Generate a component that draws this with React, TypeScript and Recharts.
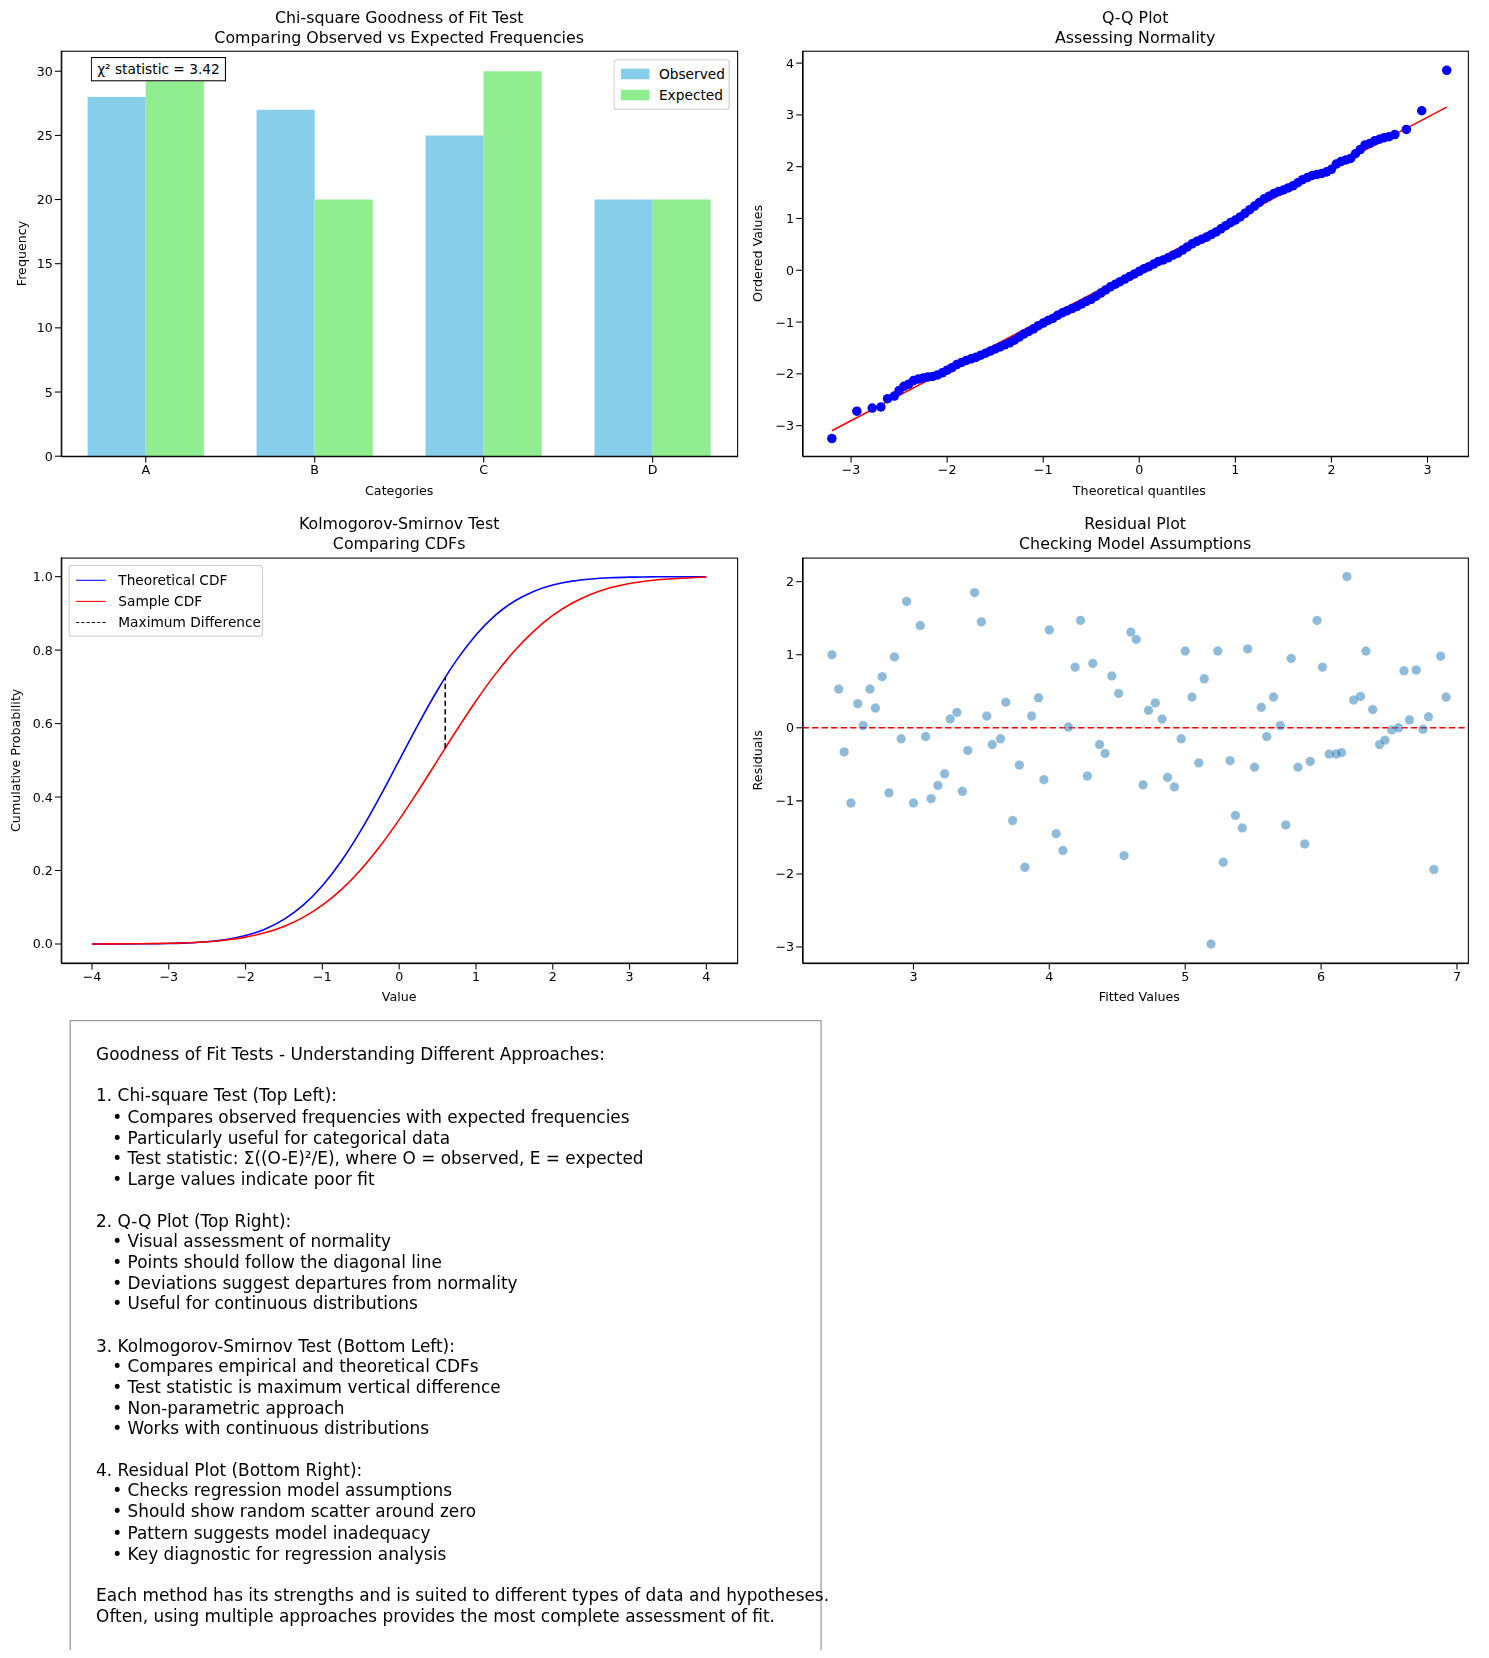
import React from "react";
import {
  BarChart, Bar, XAxis, YAxis, ScatterChart, Scatter, LineChart, Line,
  ReferenceLine, ComposedChart,
} from "recharts";

const categories = ["A", "B", "C", "D"];
const observed = [28, 27, 25, 20];
const expected = [30, 20, 30, 20];

const qqPairs: [number, number][] = [
  [-3.2,-3.25],[-2.94,-2.72],[-2.78,-2.66],[-2.69,-2.64],[-2.62,-2.48],[-2.55,-2.43],[-2.5,-2.32],[-2.45,-2.24],[-2.4,-2.2],[-2.35,-2.13],[-2.3,-2.1],[-2.25,-2.08],[-2.2,-2.06],[-2.15,-2.05],[-2.1,-2.02],[-2.05,-1.98],[-2.0,-1.93],[-1.95,-1.88],[-1.9,-1.82],[-1.85,-1.78],[-1.8,-1.74],[-1.75,-1.71],[-1.7,-1.68],[-1.65,-1.64],[-1.6,-1.6],[-1.55,-1.56],[-1.5,-1.52],[-1.45,-1.48],[-1.4,-1.44],[-1.35,-1.4],[-1.3,-1.35],[-1.25,-1.29],[-1.2,-1.23],[-1.15,-1.18],[-1.1,-1.13],[-1.05,-1.07],[-1.0,-1.02],[-0.95,-0.97],[-0.9,-0.93],[-0.85,-0.87],[-0.8,-0.82],[-0.75,-0.78],[-0.7,-0.74],[-0.65,-0.7],[-0.6,-0.65],[-0.55,-0.6],[-0.5,-0.56],[-0.45,-0.5],[-0.4,-0.44],[-0.35,-0.38],[-0.3,-0.32],[-0.25,-0.27],[-0.2,-0.22],[-0.15,-0.17],[-0.1,-0.12],[-0.05,-0.07],[0,-0.02],[0.05,0.03],[0.1,0.07],[0.15,0.12],[0.2,0.17],[0.25,0.2],[0.3,0.24],[0.35,0.29],[0.4,0.33],[0.45,0.39],[0.5,0.45],[0.55,0.51],[0.6,0.56],[0.65,0.6],[0.7,0.64],[0.75,0.69],[0.8,0.74],[0.85,0.8],[0.9,0.86],[0.95,0.92],[1.0,0.97],[1.05,1.03],[1.1,1.1],[1.15,1.17],[1.2,1.24],[1.25,1.31],[1.3,1.38],[1.35,1.43],[1.4,1.48],[1.45,1.52],[1.5,1.55],[1.55,1.59],[1.6,1.63],[1.65,1.69],[1.7,1.75],[1.75,1.79],[1.8,1.83],[1.85,1.85],[1.9,1.87],[1.95,1.9],[2.0,1.95],[2.05,2.05],[2.1,2.1],[2.15,2.13],[2.2,2.16],[2.25,2.25],[2.3,2.33],[2.35,2.42],[2.4,2.45],[2.45,2.5],[2.5,2.53],[2.55,2.56],[2.6,2.58],[2.66,2.62],[2.78,2.72],[2.94,3.08],[3.2,3.86],
];
const qqLine = [{ x: -3.2, y: -3.1 }, { x: 3.2, y: 3.15 }];

const cdfX = [-4,-3.75,-3.5,-3.25,-3,-2.75,-2.5,-2.25,-2,-1.75,-1.5,-1.25,-1,-0.75,-0.5,-0.25,0,0.25,0.5,0.75,1,1.25,1.5,1.75,2,2.25,2.5,2.75,3,3.25,3.5,3.75,4];
const theoCdf = [0,0.0001,0.0002,0.0006,0.0013,0.003,0.0062,0.0122,0.0228,0.0401,0.0668,0.1056,0.1587,0.2266,0.3085,0.4013,0.5,0.5987,0.6915,0.7734,0.8413,0.8944,0.9332,0.9599,0.9772,0.9878,0.9938,0.997,0.9987,0.9994,0.9998,0.9999,1];
const sampleCdf = [0.0001,0.0002,0.0004,0.0009,0.0018,0.0034,0.0062,0.011,0.0186,0.0304,0.0478,0.0724,0.1056,0.1488,0.2023,0.266,0.3385,0.4175,0.5,0.5825,0.6615,0.734,0.7977,0.8512,0.8944,0.9276,0.9522,0.9696,0.9814,0.989,0.9938,0.9966,0.9992];
const maxDiffX = 0.6;
const maxDiffY = [0.533, 0.726];

const fitted = [2.40,2.45,2.49,2.54,2.59,2.63,2.68,2.72,2.77,2.82,2.86,2.91,2.95,3.00,3.05,3.09,3.13,3.18,3.23,3.27,3.32,3.36,3.40,3.45,3.50,3.54,3.58,3.64,3.68,3.73,3.78,3.82,3.87,3.92,3.96,4.00,4.05,4.10,4.14,4.19,4.23,4.28,4.32,4.37,4.41,4.46,4.51,4.55,4.60,4.64,4.69,4.73,4.78,4.83,4.87,4.92,4.97,5.00,5.05,5.10,5.14,5.19,5.24,5.28,5.33,5.37,5.42,5.46,5.51,5.56,5.60,5.65,5.70,5.74,5.78,5.83,5.88,5.92,5.97,6.01,6.06,6.11,6.15,6.19,6.24,6.29,6.33,6.38,6.43,6.47,6.52,6.57,6.61,6.65,6.70,6.75,6.79,6.83,6.88,6.92];
const residuals = [1.0,0.53,-0.33,-1.03,0.33,0.03,0.53,0.27,0.70,-0.89,0.97,-0.15,1.73,-1.03,1.40,-0.12,-0.97,-0.79,-0.63,0.12,0.21,-0.87,-0.31,1.85,1.45,0.16,-0.23,-0.15,0.35,-1.27,-0.51,-1.91,0.16,0.41,-0.71,1.34,-1.45,-1.68,0.01,0.83,1.47,-0.66,0.88,-0.23,-0.35,0.71,0.47,-1.75,1.31,1.21,-0.78,0.24,0.34,0.12,-0.68,-0.81,-0.15,1.05,0.42,-0.48,0.67,-2.96,1.05,-1.84,-0.45,-1.20,-1.37,1.08,-0.54,0.28,-0.12,0.42,0.03,-1.33,0.95,-0.54,-1.59,-0.46,1.47,0.83,-0.36,-0.36,-0.34,2.07,0.38,0.43,1.05,0.25,-0.23,-0.17,-0.03,0.0,0.78,0.11,0.79,-0.02,0.15,-1.94,0.98,0.42];

const textLines = [
  "Goodness of Fit Tests - Understanding Different Approaches:",
  "",
  "1. Chi-square Test (Top Left):",
  "   • Compares observed frequencies with expected frequencies",
  "   • Particularly useful for categorical data",
  "   • Test statistic: Σ((O-E)²/E), where O = observed, E = expected",
  "   • Large values indicate poor fit",
  "",
  "2. Q-Q Plot (Top Right):",
  "   • Visual assessment of normality",
  "   • Points should follow the diagonal line",
  "   • Deviations suggest departures from normality",
  "   • Useful for continuous distributions",
  "",
  "3. Kolmogorov-Smirnov Test (Bottom Left):",
  "   • Compares empirical and theoretical CDFs",
  "   • Test statistic is maximum vertical difference",
  "   • Non-parametric approach",
  "   • Works with continuous distributions",
  "",
  "4. Residual Plot (Bottom Right):",
  "   • Checks regression model assumptions",
  "   • Should show random scatter around zero",
  "   • Pattern suggests model inadequacy",
  "   • Key diagnostic for regression analysis",
  "",
  "Each method has its strengths and is suited to different types of data and hypotheses.",
  "Often, using multiple approaches provides the most complete assessment of fit.",
];

const FONT = "DejaVu Sans, sans-serif";
const tick = { fontSize: 12, fill: "#000", fontFamily: FONT };
const axLine = { stroke: "#000" };
const minus = (v: number) => String(v).replace("-", "\u2212");
const minus1 = (v: number) => v.toFixed(1).replace("-", "\u2212");

const barData = categories.map((c, i) => ({ cat: c, observed: observed[i], expected: expected[i] }));
const qqData = qqPairs.map(([x, y]) => ({ x, y }));
const theoData = cdfX.map((x, i) => ({ x, y: theoCdf[i] }));
const sampleData = cdfX.map((x, i) => ({ x, y: sampleCdf[i] }));
const diffData = maxDiffY.map((y) => ({ x: maxDiffX, y }));
const residData = fitted.map((x, i) => ({ x, y: residuals[i] }));

function Title({ x, y, w, lines }: { x: number; y: number; w: number; lines: string[] }) {
  return (
    <div style={{ position: "absolute", left: x, top: y, width: w, textAlign: "center", fontFamily: FONT, fontSize: 15, lineHeight: "19px" }}>
      {lines.map((l) => <div key={l}>{l}</div>)}
    </div>
  );
}

function XLab({ cx, y, t }: { cx: number; y: number; t: string }) {
  return <div style={{ position: "absolute", left: cx - 150, top: y, width: 300, textAlign: "center", fontSize: 12 }}>{t}</div>;
}
function YLab({ x, cy, t }: { x: number; cy: number; t: string }) {
  return (
    <div style={{ position: "absolute", left: x - 150, top: cy - 8, width: 300, height: 16, textAlign: "center", fontSize: 12, lineHeight: "16px", transform: "rotate(-90deg)" }}>{t}</div>
  );
}

const frame = (l: number, t: number, w: number, h: number) => (
  <div style={{ position: "absolute", left: l, top: t, width: w, height: h, border: "1px solid #000", boxSizing: "border-box", pointerEvents: "none" }} />
);

export default function App() {
  return (
    <div style={{ width: 1489, height: 1658, margin: -8, background: "#fff", overflow: "hidden" }}>
    <div style={{ position: "relative", width: 1410, height: 1570, fontFamily: FONT, transform: "scale(1.056)", transformOrigin: "0 0" }}>
      <Title x={58} y={8} w={640} lines={["Chi-square Goodness of Fit Test", "Comparing Observed vs Expected Frequencies"]} />
      <div style={{ position: "absolute", left: 0, top: 0 }}>
        <BarChart width={710} height={480} data={barData} margin={{ top: 48, right: 12, bottom: 18, left: 18 }} barCategoryGap="15.6%" barGap={0}>
          <XAxis dataKey="cat" tick={tick} axisLine={axLine} tickLine={axLine} height={30} />
          <YAxis domain={[0, 31.6]} ticks={[0, 5, 10, 15, 20, 25, 30]} tick={tick} axisLine={axLine} tickLine={axLine} width={40} allowDataOverflow />
          <Bar dataKey="observed" fill="#87CEEB" isAnimationActive={false} />
          <Bar dataKey="expected" fill="#90EE90" isAnimationActive={false} />
        </BarChart>
      </div>
      {frame(58, 48, 641, 385)}
      <XLab cx={378} y={458} t="Categories" />
      <YLab x={21} cy={240} t="Frequency" />
      <div style={{ position: "absolute", left: 86, top: 54, padding: "2px 5px", border: "1px solid #000", background: "#fff", fontSize: 13, lineHeight: "17px" }}>χ² statistic = 3.42</div>
      <div style={{ position: "absolute", left: 581, top: 56, width: 110, border: "1px solid #ccc", borderRadius: 3, background: "#fff", fontSize: 13, padding: "3px 0", boxSizing: "border-box" }}>
        {[["#87CEEB", "Observed"], ["#90EE90", "Expected"]].map(([c, n]) => (
          <div key={n} style={{ display: "flex", alignItems: "center", height: 20, paddingLeft: 6 }}>
            <span style={{ width: 27, height: 10, background: c, marginRight: 9 }} />{n}
          </div>
        ))}
      </div>

      <Title x={760} y={8} w={630} lines={["Q-Q Plot", "Assessing Normality"]} />
      <div style={{ position: "absolute", left: 702, top: 0 }}>
        <ComposedChart width={700} height={480} margin={{ top: 48, right: 12, bottom: 18, left: 18 }}>
          <XAxis type="number" dataKey="x" domain={[-3.505, 3.42]} ticks={[-3, -2, -1, 0, 1, 2, 3]} tickFormatter={minus} tick={tick} axisLine={axLine} tickLine={axLine} height={30} allowDataOverflow />
          <YAxis type="number" dataKey="y" domain={[-3.59, 4.24]} ticks={[-3, -2, -1, 0, 1, 2, 3, 4]} tickFormatter={minus} tick={tick} axisLine={axLine} tickLine={axLine} width={40} allowDataOverflow />
          <Scatter data={qqData} fill="#0000ff" isAnimationActive={false} shape={(p: any) => <circle cx={p.cx} cy={p.cy} r={4.5} fill="#0000ff" />} />
          <Line data={qqLine} dataKey="y" stroke="#ff0000" strokeWidth={1.5} dot={false} isAnimationActive={false} />
        </ComposedChart>
      </div>
      {frame(760, 48, 631, 385)}
      <XLab cx={1079} y={458} t="Theoretical quantiles" />
      <YLab x={718} cy={240} t="Ordered Values" />

      <Title x={58} y={487} w={640} lines={["Kolmogorov-Smirnov Test", "Comparing CDFs"]} />
      <div style={{ position: "absolute", left: 0, top: 480 }}>
        <LineChart width={710} height={480} margin={{ top: 48, right: 12, bottom: 18, left: 18 }}>
          <XAxis type="number" dataKey="x" domain={[-4.4, 4.4]} ticks={[-4, -3, -2, -1, 0, 1, 2, 3, 4]} tickFormatter={minus} tick={tick} axisLine={axLine} tickLine={axLine} height={30} />
          <YAxis type="number" domain={[-0.052, 1.052]} ticks={[0, 0.2, 0.4, 0.6, 0.8, 1.0]} tickFormatter={minus1} tick={tick} axisLine={axLine} tickLine={axLine} width={40} />
          <Line data={theoData} dataKey="y" stroke="#0000ff" strokeWidth={1.5} dot={false} type="monotone" isAnimationActive={false} />
          <Line data={sampleData} dataKey="y" stroke="#ff0000" strokeWidth={1.5} dot={false} type="monotone" isAnimationActive={false} />
          <Line data={diffData} dataKey="y" stroke="#000" strokeWidth={1.5} strokeDasharray="5 3" dot={false} isAnimationActive={false} />
        </LineChart>
      </div>
      {frame(58, 528, 641, 385)}
      <XLab cx={378} y={937} t="Value" />
      <YLab x={15} cy={720} t="Cumulative Probability" />
      <div style={{ position: "absolute", left: 65, top: 535, width: 184, border: "1px solid #ccc", borderRadius: 3, background: "#fff", fontSize: 13, padding: "3px 0", boxSizing: "border-box" }}>
        {[["#0000ff", "Theoretical CDF", false], ["#ff0000", "Sample CDF", false], ["#000", "Maximum Difference", true]].map(([c, n, d]) => (
          <div key={n as string} style={{ display: "flex", alignItems: "center", height: 20, paddingLeft: 6 }}>
            <span style={{ width: 28, height: 0, borderTop: `1.5px ${d ? "dashed" : "solid"} ${c}`, marginRight: 12 }} />{n as string}
          </div>
        ))}
      </div>

      <Title x={760} y={487} w={630} lines={["Residual Plot", "Checking Model Assumptions"]} />
      <div style={{ position: "absolute", left: 702, top: 480 }}>
        <ScatterChart width={700} height={480} margin={{ top: 48, right: 12, bottom: 18, left: 18 }}>
          <XAxis type="number" dataKey="x" domain={[2.184, 7.08]} ticks={[3, 4, 5, 6, 7]} tick={tick} axisLine={axLine} tickLine={axLine} height={30} />
          <YAxis type="number" dataKey="y" domain={[-3.22, 2.33]} ticks={[-3, -2, -1, 0, 1, 2]} tickFormatter={minus} tick={tick} axisLine={axLine} tickLine={axLine} width={40} />
          <ReferenceLine y={0} stroke="#ff0000" strokeWidth={1.5} strokeDasharray="6 3" />
          <Scatter data={residData} isAnimationActive={false} shape={(p: any) => <circle cx={p.cx} cy={p.cy} r={4.5} fill="#1f77b4" fillOpacity={0.5} stroke="#fff" strokeOpacity={0.5} strokeWidth={0.5} />} />
        </ScatterChart>
      </div>
      {frame(760, 528, 631, 385)}
      <XLab cx={1079} y={937} t="Fitted Values" />
      <YLab x={718} cy={720} t="Residuals" />

      <div style={{ position: "absolute", left: 66, top: 966, width: 712, height: 600, border: "1px solid #888", boxSizing: "border-box", padding: "22px 0 0 24px", fontSize: 16, lineHeight: "19.7px", whiteSpace: "pre" }}>
        {textLines.map((l, i) => <div key={i} style={{ height: 19.7 }}>{l}</div>)}
      </div>
    </div>
    </div>
  );
}
